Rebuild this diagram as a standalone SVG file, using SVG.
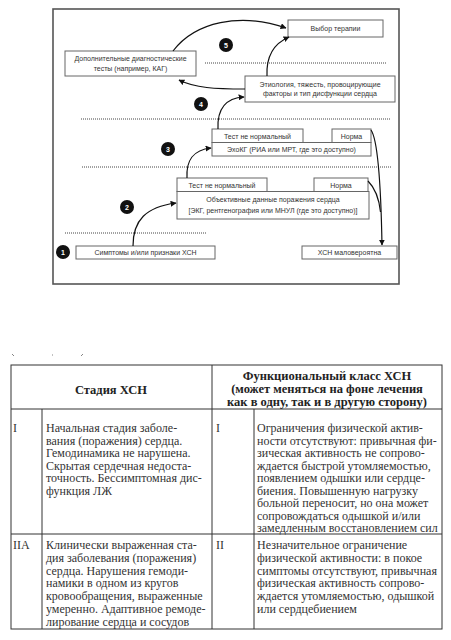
<svg xmlns="http://www.w3.org/2000/svg" width="451" height="640" viewBox="0 0 451 640">
<defs>
<marker id="ah" viewBox="0 0 10 10" refX="9" refY="5" markerWidth="6" markerHeight="6" orient="auto" markerUnits="userSpaceOnUse">
<path d="M0,0 L10,5 L0,10 z" fill="#111"/>
</marker>
</defs>
<style>
.frame{fill:none;stroke:#555;stroke-width:1.6}
.box{fill:#fff;stroke:#666;stroke-width:1}
.ft{font-family:"Liberation Sans",Arial,sans-serif;font-size:7px;fill:#333;text-anchor:middle}
.dot{stroke:#444;stroke-width:1;stroke-dasharray:1,1;fill:none}
.num{fill:#111}
.nt{font-family:"Liberation Sans",Arial,sans-serif;font-size:7px;font-weight:bold;fill:#fff;text-anchor:middle}
.con{fill:none;stroke:#111;stroke-width:1.2}
.tl{stroke:#333;stroke-width:1;fill:none}
.th{font-family:"Liberation Serif","Times New Roman",serif;font-size:12.5px;font-weight:bold;fill:#222;text-anchor:middle}
.td{font-family:"Liberation Serif","Times New Roman",serif;font-size:12px;fill:#333}
</style>
<rect x="0" y="0" width="451" height="640" fill="#fff"/>
<rect class="frame" x="53" y="9" width="346" height="275"/>
<g id="dotted">
<line class="dot" x1="205" y1="63" x2="387" y2="63"/>
<line class="dot" x1="81" y1="119" x2="390" y2="119"/>
<line class="dot" x1="82" y1="167" x2="391" y2="167"/>
<line class="dot" x1="65" y1="233" x2="207" y2="233"/>
</g>
<g id="n-therapy"><rect class="box" x="288" y="20" width="95" height="17"/><text class="ft" x="335.5" y="31">Выбор терапии</text></g>
<g id="n-tests"><rect class="box" x="65" y="51" width="131" height="25"/><text class="ft" x="130.5" y="61">Дополнительные диагностические</text><text class="ft" x="130.5" y="71">тесты (например, КАГ)</text></g>
<g id="n-etiology"><rect class="box" x="245" y="76" width="150" height="26"/><text class="ft" x="320" y="86.5">Этиология, тяжесть, провоцирующие</text><text class="ft" x="320" y="96">факторы и тип дисфункции сердца</text></g>
<g id="n-echo">
<rect class="box" x="212" y="129" width="91" height="13.5"/><text class="ft" x="257.5" y="138.5">Тест не нормальный</text>
<rect class="box" x="332" y="129" width="39" height="13.5"/><text class="ft" x="351.5" y="138.5">Норма</text>
<rect class="box" x="212" y="142.5" width="159" height="13.5"/><text class="ft" x="291.5" y="152">ЭхоКГ (РИА или МРТ, где это доступно)</text>
</g>
<g id="n-objective">
<rect class="box" x="177" y="178" width="90" height="13.5"/><text class="ft" x="222" y="187.5">Тест не нормальный</text>
<rect class="box" x="314" y="178" width="54" height="13.5"/><text class="ft" x="341" y="187.5">Норма</text>
<rect class="box" x="177" y="191.5" width="192" height="27.5"/><text class="ft" x="273" y="202">Объективные данные поражения сердца</text><text class="ft" x="273" y="213">[ЭКГ, рентгенография или МНУЛ (где это доступно)]</text>
</g>
<g id="n-symptoms"><rect class="box" x="76" y="246" width="139" height="13"/><text class="ft" x="145.5" y="255">Симптомы и/или признаки ХСН</text></g>
<g id="n-unlikely"><rect class="box" x="302" y="246" width="95" height="13"/><text class="ft" x="349.5" y="255">ХСН маловероятна</text></g>
<g id="steps">
<circle class="num" cx="63" cy="252" r="7"/><text class="nt" x="63" y="254.5">1</text>
<circle class="num" cx="127" cy="207" r="7"/><text class="nt" x="127" y="209.5">2</text>
<circle class="num" cx="168" cy="149" r="7"/><text class="nt" x="168" y="151.5">3</text>
<circle class="num" cx="201" cy="104" r="7"/><text class="nt" x="201" y="106.5">4</text>
<circle class="num" cx="226" cy="45" r="7"/><text class="nt" x="226" y="47.5">5</text>
</g>
<g id="connectors">
<path class="con" d="M133,246 C133,220 146,207 176,203" marker-end="url(#ah)"/>
<path class="con" d="M187,178 C186,160 193,150 211,148" marker-end="url(#ah)"/>
<path class="con" d="M218,129 C217,108 226,98 244,97" marker-end="url(#ah)"/>
<path class="con" d="M245,89 C215,89 195,88 179,80" marker-end="url(#ah)"/>
<path class="con" d="M173,51 C195,22 240,12 286,28" marker-end="url(#ah)"/>
<path class="con" d="M267,76 C266,55 275,43 289,37" marker-end="url(#ah)"/>
<path class="con" d="M371,130 C378,140 381,190 382,245" marker-end="url(#ah)"/>
<path class="con" d="M368,181 C375,188 379,198 380.5,212"/>
</g>
<g id="marks" stroke="#666" stroke-width="0.8">
<line x1="12" y1="354" x2="14" y2="356"/>
<line x1="52" y1="355" x2="53" y2="355"/>
<line x1="81" y1="356" x2="83" y2="354"/>
</g>
<g id="table">
<rect class="tl" x="11" y="365" width="431" height="264"/>
<line class="tl" x1="11" y1="409" x2="442" y2="409"/>
<line class="tl" x1="11" y1="534" x2="442" y2="534"/>
<line class="tl" x1="212" y1="365" x2="212" y2="629"/>
<line class="tl" x1="42" y1="409" x2="42" y2="629"/>
<line class="tl" x1="254" y1="409" x2="254" y2="629"/>
<text class="th" x="111" y="394">Стадия ХСН</text>
<text class="th" x="327" y="380">Функциональный класс ХСН</text>
<text class="th" x="327" y="393">(может меняться на фоне лечения</text>
<text class="th" x="327" y="406">как в одну, так и в другую сторону)</text>
<text class="td" x="13" y="432">I</text>
<text class="td" x="216" y="432">I</text>
<text class="td" x="13" y="549">IIА</text>
<text class="td" x="216" y="549">II</text>
<text class="td" x="46" y="432">Начальная стадия заболе-<tspan x="46" dy="12.5">вания (поражения) сердца.</tspan><tspan x="46" dy="12.5">Гемодинамика не нарушена.</tspan><tspan x="46" dy="12.5">Скрытая сердечная недоста-</tspan><tspan x="46" dy="12.5">точность. Бессимптомная дис-</tspan><tspan x="46" dy="12.5">функция ЛЖ</tspan></text>
<text class="td" x="257" y="432">Ограничения физической актив-<tspan x="257" dy="12.5">ности отсутствуют: привычная фи-</tspan><tspan x="257" dy="12.5">зическая активность не сопрово-</tspan><tspan x="257" dy="12.5">ждается быстрой утомляемостью,</tspan><tspan x="257" dy="12.5">появлением одышки или сердце-</tspan><tspan x="257" dy="12.5">биения. Повышенную нагрузку</tspan><tspan x="257" dy="12.5">больной переносит, но она может</tspan><tspan x="257" dy="12.5">сопровождаться одышкой и/или</tspan><tspan x="257" dy="12.5">замедленным восстановлением сил</tspan></text>
<text class="td" x="46" y="549">Клинически выраженная ста-<tspan x="46" dy="12.8">дия заболевания (поражения)</tspan><tspan x="46" dy="12.8">сердца. Нарушения гемоди-</tspan><tspan x="46" dy="12.8">намики в одном из кругов</tspan><tspan x="46" dy="12.8">кровообращения, выраженные</tspan><tspan x="46" dy="12.8">умеренно. Адаптивное ремоде-</tspan><tspan x="46" dy="12.8">лирование сердца и сосудов</tspan></text>
<text class="td" x="257" y="549">Незначительное ограничение<tspan x="257" dy="12.8">физической активности: в покое</tspan><tspan x="257" dy="12.8">симптомы отсутствуют, привычная</tspan><tspan x="257" dy="12.8">физическая активность сопрово-</tspan><tspan x="257" dy="12.8">ждается утомляемостью, одышкой</tspan><tspan x="257" dy="12.8">или сердцебиением</tspan></text>
</g>
</svg>
